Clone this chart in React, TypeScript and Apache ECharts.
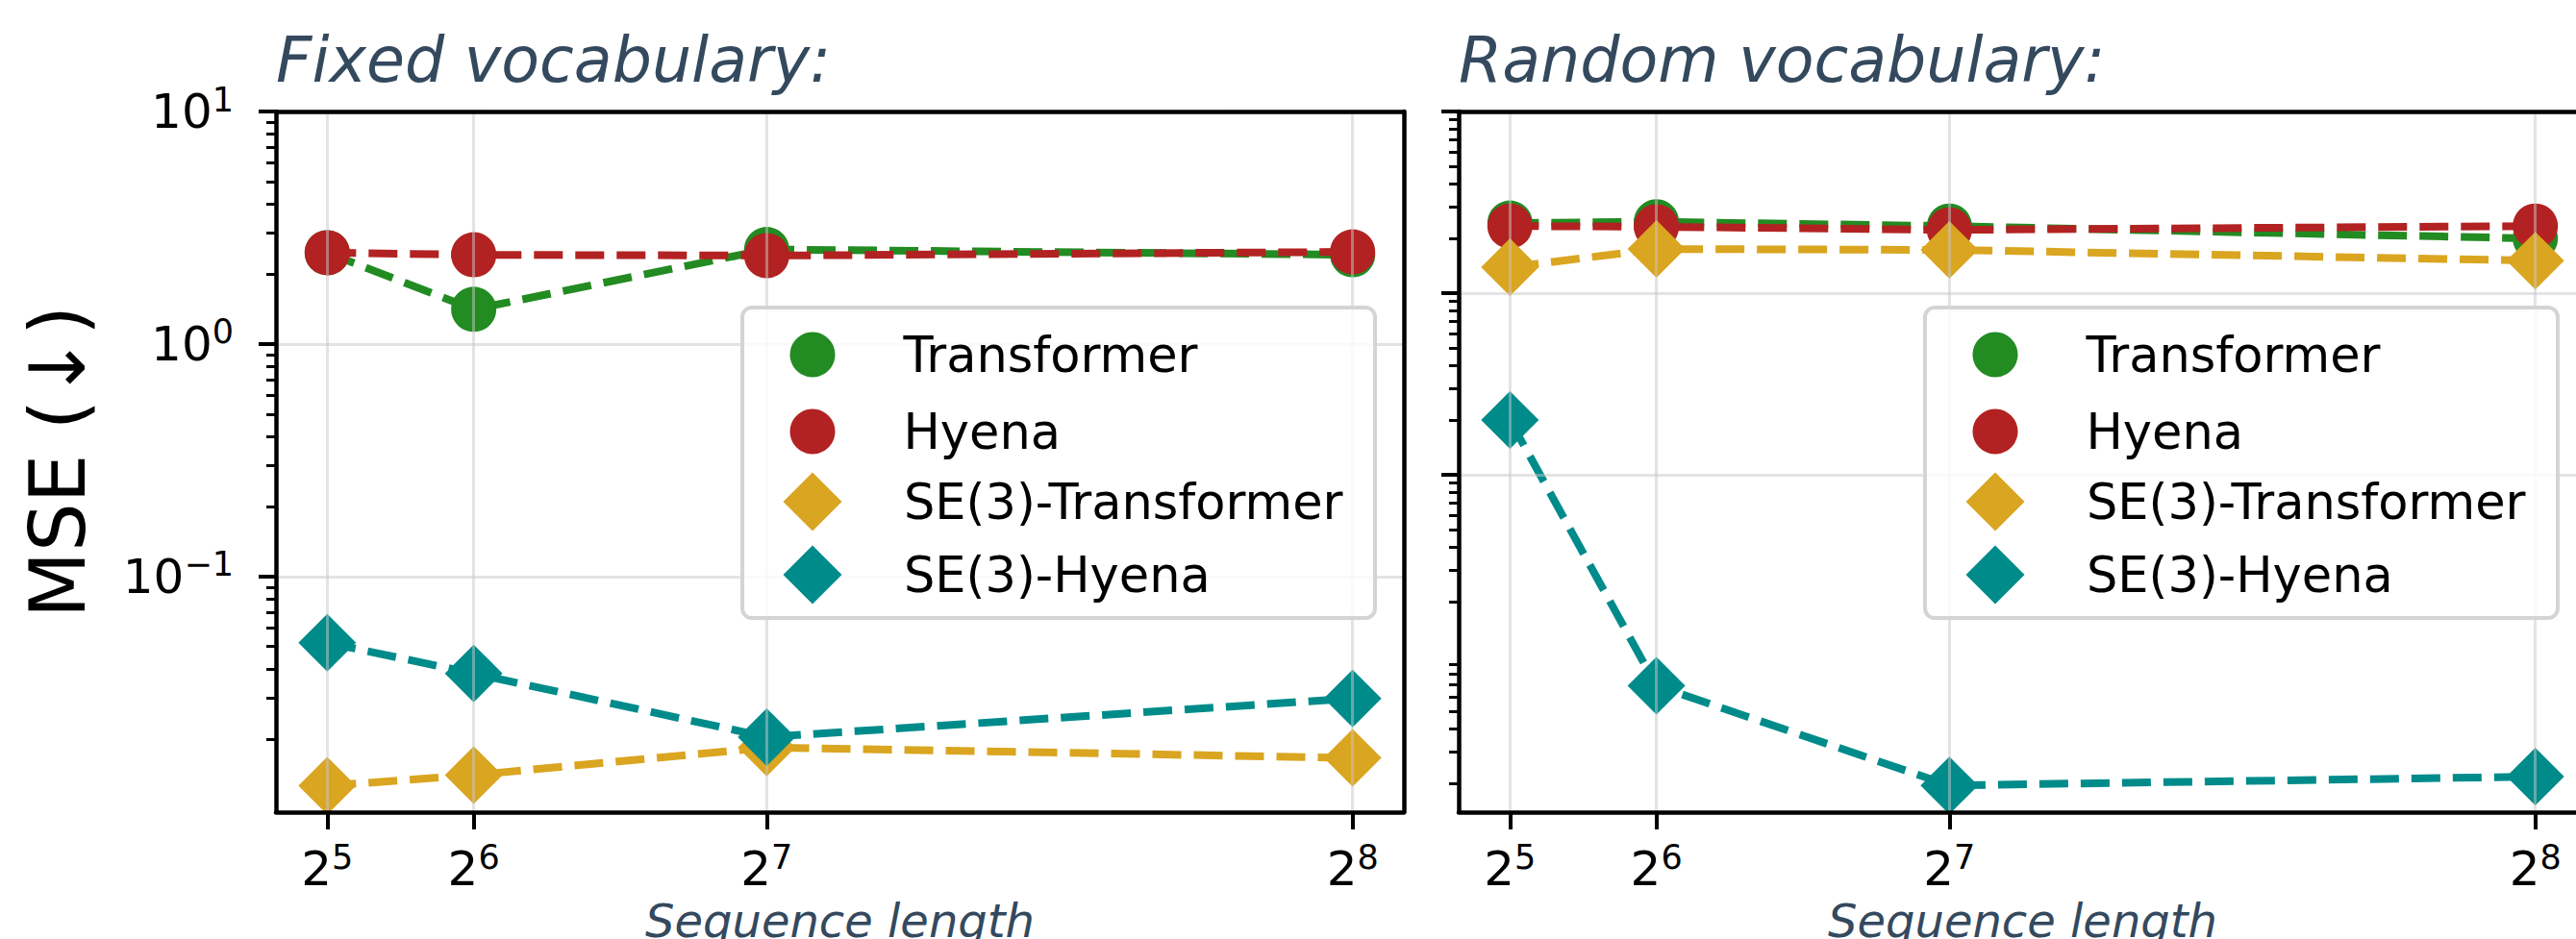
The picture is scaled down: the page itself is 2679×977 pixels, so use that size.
import React, { useEffect, useRef } from 'react';
import * as echarts from 'echarts';

// ---------- data ----------
const seqLengths = [32, 64, 128, 256];
const xTickValues = [32, 64, 128, 256];
const xTickExponents = ['5', '6', '7', '8'];

const yMajorValues = [0.1, 1, 10];
const yMajorExponents = ['−1', '0', '1'];
const ySplitValues = [0.1, 1];
const yMinorFixed = [
  0.02, 0.03, 0.04, 0.05, 0.06, 0.07, 0.08, 0.09,
  0.2, 0.3, 0.4, 0.5, 0.6, 0.7, 0.8, 0.9,
  2, 3, 4, 5, 6, 7, 8, 9,
];
const yMinorRandom = [
  0.002, 0.003, 0.004, 0.005, 0.006, 0.007, 0.008, 0.009,
  0.02, 0.03, 0.04, 0.05, 0.06, 0.07, 0.08, 0.09,
  0.2, 0.3, 0.4, 0.5, 0.6, 0.7, 0.8, 0.9,
  2, 3, 4, 5, 6, 7, 8, 9,
];

const seriesNames = ['Transformer', 'Hyena', 'SE(3)-Transformer', 'SE(3)-Hyena'];
const seriesColors = ['#228b22', '#b22222', '#daa520', '#008b8b'];
const seriesSymbols = ['circle', 'circle', 'diamond', 'diamond'];

// Fixed vocabulary
const transformerFixed = [2.47, 1.41, 2.55, 2.42];
const hyenaFixed = [2.47, 2.42, 2.40, 2.49];
const se3TransformerFixed = [0.0126, 0.014, 0.0184, 0.0166];
const se3HyenaFixed = [0.0519, 0.0383, 0.0204, 0.0299];

// Random vocabulary
const transformerRandom = [2.43, 2.47, 2.34, 2.0];
const hyenaRandom = [2.34, 2.32, 2.23, 2.34];
const se3TransformerRandom = [1.39, 1.75, 1.73, 1.51];
const se3HyenaRandom = [0.2, 0.0069, 0.00195, 0.00218];

const titles = ['Fixed vocabulary:', 'Random vocabulary:'];
const xAxisTitle = 'Sequence length';
const yAxisTitle = 'MSE (↓)';

// ---------- layout / style ----------
const FONT = 'DejaVu Sans';
const SLATE = '#34495e';
const GRID_LEFTS = [287, 1517];
const GRID_TOP = 116;
const GRID_W = 1173;
const GRID_H = 729;
const X_MIN = 20.8;
const X_MAX = 267.2;
const Y_RANGES = [
  [0.0097, 10],
  [0.00139, 10],
];
const GRIDCOLOR = 'rgba(200,200,200,0.5)';

const richTick = {
  b: { fontSize: 50, lineHeight: 60, fontFamily: FONT, color: '#000' },
  s: { fontSize: 35, lineHeight: 30, fontFamily: FONT, color: '#000', verticalAlign: 'top' },
};

function xLabel(v: number) {
  const i = xTickValues.indexOf(v);
  return i < 0 ? '' : `{b|2}{s|${xTickExponents[i]}}`;
}
function yLabel(v: number) {
  let best = -1;
  let bd = 1e9;
  yMajorValues.forEach((t, i) => {
    const d = Math.abs(Math.log10(v) - Math.log10(t));
    if (d < bd) { bd = d; best = i; }
  });
  return bd < 1e-6 ? `{b|10}{s|${yMajorExponents[best]}}` : '';
}

export default function App() {
  const ref = useRef<HTMLDivElement>(null);
  useEffect(() => {
    document.body.style.margin = '0';
    if (!ref.current) return;
    const chart = echarts.init(ref.current, undefined, { renderer: 'svg' });

    const grids = GRID_LEFTS.map((left) => ({
      left, top: GRID_TOP, width: GRID_W, height: GRID_H,
      show: false, containLabel: false, outerBoundsMode: 'none',
    }));

    const xAxes: any[] = [];
    const yAxes: any[] = [];
    const line = { show: true, lineStyle: { color: '#000', width: 4.5 } };
    GRID_LEFTS.forEach((_, g) => {
      // main bottom axis
      xAxes.push({
        gridIndex: g, type: 'value', position: 'bottom', min: X_MIN, max: X_MAX, z: 4,
        axisLine: { ...line, onZero: false },
        axisTick: { show: true, customValues: xTickValues, length: 18, lineStyle: { width: 4, color: '#000' } },
        axisLabel: { show: true, customValues: xTickValues, formatter: xLabel, margin: 29, rich: richTick },
        splitLine: { show: false },
        name: xAxisTitle, nameLocation: 'middle', nameGap: 86,
        nameTextStyle: { fontFamily: FONT, fontStyle: 'italic', fontSize: 48, color: SLATE },
      });
      // top spine
      xAxes.push({
        gridIndex: g, type: 'value', position: 'top', min: X_MIN, max: X_MAX, z: 4,
        axisLine: { ...line, onZero: false },
        axisTick: { show: false }, axisLabel: { show: false }, splitLine: { show: false },
      });
      // vertical grid lines
      xAxes.push({
        gridIndex: g, type: 'value', position: 'bottom', min: X_MIN, max: X_MAX, z: 3,
        axisLine: { show: false }, axisLabel: { show: false },
        axisTick: { show: false, customValues: xTickValues },
        splitLine: { show: true, lineStyle: { color: GRIDCOLOR, width: 3 } },
      });

      const [ymin, ymax] = Y_RANGES[g];
      yAxes.push({
        gridIndex: g, type: 'log', logBase: 10, position: 'left', min: ymin, max: ymax, z: 4,
        axisLine: { ...line, onZero: false },
        axisTick: { show: true, customValues: yMajorValues, length: 18, lineStyle: { width: 4, color: '#000' } },
        axisLabel: g === 0
          ? { show: true, customValues: yMajorValues, formatter: yLabel, margin: 44, rich: richTick }
          : { show: false },
        splitLine: { show: false },
        ...(g === 0
          ? {
              name: yAxisTitle, nameLocation: 'middle', nameGap: 187, nameRotate: 90,
              nameTextStyle: { fontFamily: FONT, fontSize: 80, color: '#000' },
            }
          : {}),
      });
      yAxes.push({
        gridIndex: g, type: 'log', logBase: 10, position: 'left', min: ymin, max: ymax, z: 4,
        axisLine: { show: false },
        axisTick: { show: true, customValues: g === 0 ? yMinorFixed : yMinorRandom, length: 10, lineStyle: { width: 3, color: '#000' } },
        axisLabel: { show: false }, splitLine: { show: false },
      });
      yAxes.push({
        gridIndex: g, type: 'log', logBase: 10, position: 'left', min: ymin, max: ymax, z: 3,
        axisLine: { show: false }, axisLabel: { show: false },
        axisTick: { show: false, customValues: ySplitValues },
        splitLine: { show: true, lineStyle: { color: GRIDCOLOR, width: 3 } },
      });
      yAxes.push({
        gridIndex: g, type: 'log', logBase: 10, position: 'right', min: ymin, max: ymax, z: 4,
        axisLine: { ...line, onZero: false },
        axisTick: { show: false }, axisLabel: { show: false }, splitLine: { show: false },
      });
    });

    const panels = [
      [transformerFixed, hyenaFixed, se3TransformerFixed, se3HyenaFixed],
      [transformerRandom, hyenaRandom, se3TransformerRandom, se3HyenaRandom],
    ];
    const series: any[] = [];
    panels.forEach((vals, g) => {
      vals.forEach((arr, i) => {
        series.push({
          type: 'line', name: seriesNames[i],
          xAxisIndex: g * 3, yAxisIndex: g * 4,
          data: seqLengths.map((x, k) => [x, arr[k]]),
          symbol: seriesSymbols[i],
          symbolSize: seriesSymbols[i] === 'circle' ? 47 : 60,
          showSymbol: true,
          lineStyle: { color: seriesColors[i], width: 8, type: [30, 13] },
          itemStyle: { color: seriesColors[i] },
          z: 2 + i * 0.1,
          emphasis: { disabled: true },
        });
      });
    });

    const legends: any[] = [];
    const frames: any[] = [];
    const LEG_DX = [0, 1230];
    LEG_DX.forEach((dx) => {
      const markerX = 845 + dx;
      legends.push({
        orient: 'vertical', left: markerX - 23.5, top: 367 - 23.5, padding: 0,
        itemWidth: 47, itemHeight: 47, itemGap: 29, z: 6, selectedMode: false,
        data: [
          { name: seriesNames[0], icon: 'circle' },
          { name: seriesNames[1], icon: 'circle' },
        ],
        formatter: (n: string) => `{t|${n}}`,
        textStyle: { rich: { t: { fontSize: 51, fontFamily: FONT, color: '#000', lineHeight: 47, padding: [0, 0, 0, 66] } } },
      });
      legends.push({
        orient: 'vertical', left: markerX - 30.5, top: 522 - 30.5, padding: 0,
        itemWidth: 61, itemHeight: 61, itemGap: 15, z: 6, selectedMode: false,
        data: [
          { name: seriesNames[2], icon: 'diamond' },
          { name: seriesNames[3], icon: 'diamond' },
        ],
        formatter: (n: string) => `{t|${n}}`,
        textStyle: { rich: { t: { fontSize: 51, fontFamily: FONT, color: '#000', lineHeight: 61, padding: [0, 0, 0, 59.5] } } },
      });
      frames.push({
        type: 'rect', z: 5,
        shape: { x: 772 + dx, y: 320, width: 658, height: 323, r: 10 },
        style: { fill: 'rgba(255,255,255,0.8)', stroke: '#d4d4d4', lineWidth: 4 },
      });
    });

    chart.setOption({
      animation: false,
      backgroundColor: '#fff',
      title: GRID_LEFTS.map((left, g) => ({
        text: titles[g], left, top: 30, padding: 0,
        textStyle: { fontFamily: FONT, fontStyle: 'italic', fontWeight: 'normal', fontSize: 65, color: SLATE },
      })),
      grid: grids,
      xAxis: xAxes,
      yAxis: yAxes,
      legend: legends,
      graphic: { elements: frames },
      series,
    });
    return () => chart.dispose();
  }, []);
  return <div ref={ref} style={{ width: 2679, height: 977 }} />;
}
